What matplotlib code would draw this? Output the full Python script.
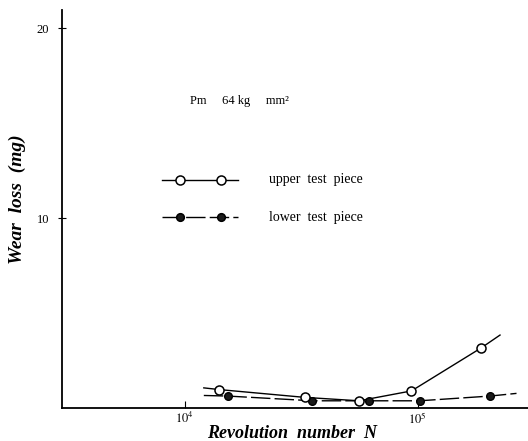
import numpy as np
import matplotlib
matplotlib.use('Agg')
import matplotlib.pyplot as plt
from matplotlib.ticker import FixedLocator, NullLocator, FixedFormatter

plt.rcParams['font.family'] = ['Liberation Serif', 'DejaVu Serif']
plt.rcParams['mathtext.fontset'] = 'stix'

# revolution number N and wear loss (mg)
upper_n = [1.41e4, 3.28e4, 5.61e4, 9.42e4, 1.88e5]
upper_wear = [0.97, 0.56, 0.38, 0.90, 3.17]
lower_n = [1.53e4, 3.54e4, 6.19e4, 1.02e5, 2.05e5]
lower_wear = [0.63, 0.38, 0.38, 0.38, 0.63]

# ends of the drawn curves beyond the measured points
upper_curve_n = [1.21e4] + upper_n + [2.26e5]
upper_curve_wear = [1.06] + upper_wear + [3.84]
lower_curve_n = [1.21e4] + lower_n + [2.66e5]
lower_curve_wear = [0.66] + lower_wear + [0.77]

x_ticks = [1e4, 1e5]
x_tick_labels = ['$10^4$', '$10^5$']
y_ticks = [10, 20]

fig = plt.figure(figsize=(5.28, 4.41), dpi=100)
ax = fig.add_axes([0.1167, 0.0748, 0.8833, 0.9025])

ax.plot(upper_curve_n, upper_curve_wear, color='black', lw=1.0, zorder=2)
ax.plot(upper_n, upper_wear, 'o', ms=6.5, mfc='white', mec='black', mew=1.1, zorder=4)
ax.plot(lower_curve_n, lower_curve_wear, color='black', lw=1.0, dashes=(14, 3), zorder=1)
ax.plot(lower_n, lower_wear, 'o', ms=5.5, mfc='#1a1a1a', mec='black', mew=1.0, zorder=3)

ax.set_xscale('log')
ax.set_xlim(2968, 2.98e5)
ax.set_ylim(0, 20.95)

ax.xaxis.set_major_locator(FixedLocator(x_ticks))
ax.xaxis.set_major_formatter(FixedFormatter(x_tick_labels))
ax.xaxis.set_minor_locator(NullLocator())
ax.set_yticks(y_ticks)
ax.set_yticklabels([str(v) for v in y_ticks])

ax.tick_params(axis='x', direction='in', length=5, width=0.8, labelsize=9, pad=2)
ax.tick_params(axis='y', direction='inout', length=6, width=0.8, labelsize=9, pad=6)

for side in ['top', 'right']:
    ax.spines[side].set_visible(False)
ax.spines['left'].set_linewidth(1.3)
ax.spines['bottom'].set_linewidth(1.3)

ax.set_xlabel('Revolution  number  N', fontsize=13, fontstyle='italic',
              fontweight='bold', va='center')
ax.xaxis.set_label_coords(0.494, -0.063)
ax.set_ylabel('Wear  loss  (mg)', fontsize=14, fontstyle='italic',
              fontweight='bold', va='center')
ax.yaxis.set_label_coords(-0.095, 0.525)

ax.text(0.276, 0.771, 'Pm     64 kg     mm²', transform=ax.transAxes,
        fontsize=9, va='center', ha='left')

# hand-drawn key
for y_pos, face, size, dash in [(0.574, 'white', 6.5, None), (0.479, '#1a1a1a', 5.5, (14, 3))]:
    kw = dict(color='black', lw=1.0, transform=ax.transAxes)
    if dash:
        kw['dashes'] = dash
    ax.plot([0.216, 0.379], [y_pos, y_pos], **kw)
    ax.plot([0.254, 0.341], [y_pos, y_pos], 'o', ms=size, mfc=face, mec='black',
            mew=1.1, transform=ax.transAxes)
ax.text(0.445, 0.574, 'upper  test  piece', transform=ax.transAxes,
        fontsize=10, va='center', ha='left')
ax.text(0.445, 0.479, 'lower  test  piece', transform=ax.transAxes,
        fontsize=10, va='center', ha='left')

fig.savefig('out.png', dpi=100)
